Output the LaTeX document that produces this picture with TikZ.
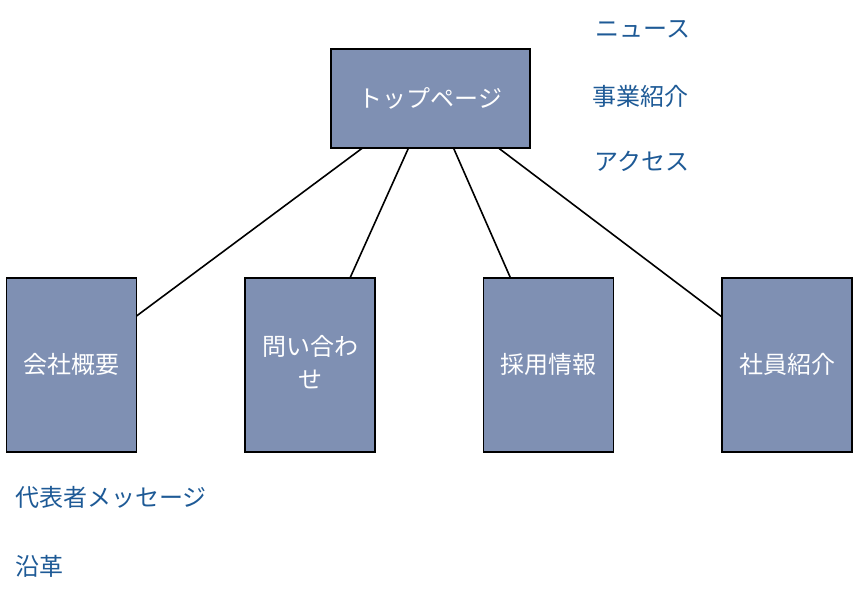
\documentclass[tikz,border=0pt]{standalone}
\usepackage{fontspec}
\setmainfont{Noto Sans CJK JP}
\usetikzlibrary{positioning}
\definecolor{boxblue}{RGB}{127,144,179}
\definecolor{linkblue}{RGB}{30,90,150}

\begin{document}
\begin{tikzpicture} [
    x=1pt, y=-1pt,
    font=\fontsize{24}{33}\selectfont,
    page/.style = {draw, line width=1.6pt, fill=boxblue, text=white, minimum width=199pt, minimum height=99pt, outer sep=0pt},
    sub/.style = {draw, line width=1.6pt, fill=boxblue, text=white, minimum width=130pt, minimum height=174pt, outer sep=0pt},
    item/.style = {text=linkblue, anchor=west, inner sep=0pt},
    link/.style = {draw, line width=1.6pt}
    ]
    \useasboundingbox (0,0) rectangle (858,604);

    \node[page] (top) at (430.5,98.5) {\raisebox{2pt}{トップページ}};
    \node[sub] (kaisha) at (71.5,365) {\raisebox{4pt}{会社概要}};
    \node[sub, right=108.5pt of kaisha] (toiawase) {\raisebox{4pt}{\begin{tabular}{@{}c@{}}問い合わ\\せ\end{tabular}}};
    \node[sub, right=108.5pt of toiawase] (saiyou) {\raisebox{4pt}{採用情報}};
    \node[sub, right=108.5pt of saiyou] (shain) {\raisebox{4pt}{社員紹介}};

    \path[link] ([xshift=-68pt]top.south) -- ([yshift=49pt]kaisha.east);
    \path[link] ([xshift=-22pt]top.south) -- ([xshift=40pt]toiawase.north);
    \path[link] ([xshift=23pt]top.south) -- ([xshift=-38pt]saiyou.north);
    \path[link] ([xshift=68pt]top.south) -- ([yshift=48pt]shain.west);

    \node[item] (news) at (595,29) {ニュース};
    \node[item] (jigyou) at (592,96) {事業紹介};
    \node[item] (access) at (594,161) {アクセス};
    \node[item] (message) at (15,497) {代表者メッセージ};
    \node[item] (enkaku) at (15,566) {沿革};
  \end{tikzpicture}
\end{document}
